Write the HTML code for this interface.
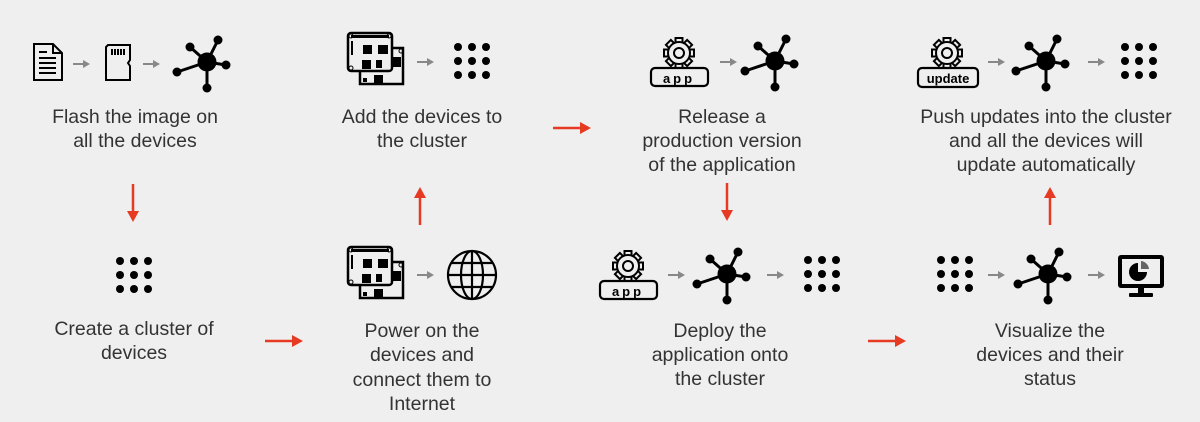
<!DOCTYPE html>
<html><head><meta charset="utf-8"><style>
html,body{margin:0;padding:0;background:#efefef;}
svg{display:block;}
text{font-family:"Liberation Sans",sans-serif;font-size:19.5px;fill:#333;text-anchor:middle;}
</style></head><body>
<svg width="1200" height="422" viewBox="0 0 1200 422" xmlns="http://www.w3.org/2000/svg">
<defs>
  <g id="hub">
    <g stroke="#000" stroke-width="3">
      <line x1="0" y1="0" x2="11" y2="-22"/><line x1="0" y1="0" x2="-17" y2="-15"/>
      <line x1="0" y1="0" x2="19" y2="3"/><line x1="0" y1="0" x2="-30" y2="10"/>
      <line x1="0" y1="0" x2="0" y2="26"/>
    </g>
    <circle r="9.5" fill="#000"/>
    <circle cx="11" cy="-22" r="4.5"/><circle cx="-17" cy="-15" r="4.5"/>
    <circle cx="19" cy="3" r="4.5"/><circle cx="-30" cy="10" r="4.5"/>
    <circle cx="0" cy="26" r="4.5"/>
  </g>
  <g id="grid">
    <circle cx="-14" cy="-14" r="4"/><circle cx="0" cy="-14" r="4"/><circle cx="14" cy="-14" r="4"/>
    <circle cx="-14" cy="0" r="4"/><circle cx="0" cy="0" r="4"/><circle cx="14" cy="0" r="4"/>
    <circle cx="-14" cy="14" r="4"/><circle cx="0" cy="14" r="4"/><circle cx="14" cy="14" r="4"/>
  </g>
  <g id="garr">
    <line x1="0" y1="0" x2="12" y2="0" stroke="#888" stroke-width="2"/>
    <polygon points="10,-4 17,0 10,4" fill="#888"/>
  </g>
  <g id="board">
    <path d="M44,15 H55 V51 H12 V38" fill="none" stroke="#000" stroke-width="2.5"/>
    <rect x="0" y="0" width="44" height="38" rx="3" fill="none" stroke="#000" stroke-width="2.5"/>
    <rect x="3" y="2" width="38" height="3" fill="#000"/>
    <rect x="3" y="8" width="2" height="14" fill="#000"/>
    <rect x="15" y="12" width="9" height="9" fill="#000"/>
    <rect x="30" y="12" width="10" height="9" fill="#000"/>
    <rect x="14" y="27" width="9" height="9" fill="#000"/>
    <rect x="28" y="27" width="6" height="8" fill="#000"/>
    <rect x="45" y="24" width="8" height="10" fill="#000"/>
    <rect x="26" y="42" width="9" height="9" fill="#000"/>
    <rect x="15" y="45" width="4" height="4" fill="#000"/>
    <circle cx="3" cy="3" r="2" fill="none" stroke="#000"/><circle cx="41" cy="3" r="2" fill="none" stroke="#000"/>
    <circle cx="3" cy="35" r="2" fill="none" stroke="#000"/><circle cx="53" cy="18" r="2" fill="none" stroke="#000"/>
  </g>
  <g id="gear" fill="none" stroke="#000" stroke-width="2">
    <g fill="#efefef">
      <rect x="-3.5" y="-15" width="7" height="6"/>
      <rect x="-3.5" y="-15" width="7" height="6" transform="rotate(45)"/>
      <rect x="-3.5" y="-15" width="7" height="6" transform="rotate(90)"/>
      <rect x="-3.5" y="-15" width="7" height="6" transform="rotate(135)"/>
      <rect x="-3.5" y="-15" width="7" height="6" transform="rotate(-45)"/>
      <rect x="-3.5" y="-15" width="7" height="6" transform="rotate(-90)"/>
      <rect x="-3.5" y="-15" width="7" height="6" transform="rotate(-135)"/>
      <rect x="-3.5" y="-15" width="7" height="6" transform="rotate(180)"/>
    </g>
    <circle r="11" fill="#efefef"/>
    <circle r="5"/>
  </g>
  <g id="redr"><line x1="0" y1="0" x2="30" y2="0" stroke="#e63a22" stroke-width="2.5"/><polygon points="27,-6 38,0 27,6" fill="#e63a22"/></g>
</defs>

<!-- Step 1 -->
<g fill="none" stroke="#000" stroke-width="2">
  <path d="M34,44 H53 L62,53 V80 H34 Z"/><path d="M53,44 V53 H62"/>
  <line x1="39" y1="52" x2="47" y2="52"/><line x1="39" y1="58" x2="56" y2="58"/>
  <line x1="39" y1="63" x2="56" y2="63"/><line x1="39" y1="68" x2="56" y2="68"/><line x1="39" y1="73" x2="56" y2="73"/>
  <path d="M108,45 H130 V60 L128,63 L130,66 V80 H106 V47 Z"/>
  <path d="M112,49 v6 M115,49 v6 M118,49 v6 M121,49 v6 M124,49 v6"/>
</g>
<use href="#garr" x="73" y="64"/><use href="#garr" x="143" y="64"/>
<use href="#hub" x="207" y="62"/>
<text x="135" y="123">Flash the image on</text><text x="135" y="147">all the devices</text>

<g transform="translate(133,184) rotate(90)"><use href="#redr"/></g>

<!-- Step 2 -->
<use href="#grid" x="134" y="275"/>
<text x="134" y="335">Create a cluster of</text><text x="134" y="359">devices</text>
<use href="#redr" x="265" y="341"/>

<!-- Step 3 -->
<use href="#board" x="348" y="247"/>
<use href="#garr" x="417" y="275"/>
<g fill="none" stroke="#000" stroke-width="2.2" transform="translate(472,275)">
  <circle r="24"/><ellipse rx="11" ry="24"/><line x1="0" y1="-24" x2="0" y2="24"/>
  <line x1="-24" y1="0" x2="24" y2="0"/><line x1="-20" y1="-12" x2="20" y2="-12"/><line x1="-20" y1="12" x2="20" y2="12"/>
</g>
<text x="422" y="337">Power on the</text><text x="422" y="361">devices and</text>
<text x="422" y="386">connect them to</text><text x="422" y="410">Internet</text>

<g transform="translate(420,225) rotate(-90)"><use href="#redr"/></g>

<!-- Step 4 -->
<use href="#board" x="348" y="33"/>
<use href="#garr" x="417" y="62"/>
<use href="#grid" x="472" y="61"/>
<text x="422" y="123">Add the devices to</text><text x="422" y="147">the cluster</text>
<use href="#redr" x="553" y="128"/>

<!-- Step 5 -->
<use href="#gear" x="679" y="53"/>
<rect x="651" y="68" width="57" height="18" rx="4" fill="#efefef" stroke="#000" stroke-width="2.2"/>
<text x="679" y="83" style="font-size:13px;font-weight:bold;letter-spacing:3px;fill:#000">app</text>
<use href="#garr" x="720" y="62"/>
<use href="#hub" x="775" y="61"/>
<text x="722" y="123">Release a</text><text x="722" y="147">production version</text><text x="722" y="171">of the application</text>

<g transform="translate(727,183) rotate(90)"><use href="#redr"/></g>

<!-- Step 6 -->
<use href="#gear" x="628" y="266"/>
<rect x="600" y="281" width="57" height="18" rx="4" fill="#efefef" stroke="#000" stroke-width="2.2"/>
<text x="628" y="296" style="font-size:13px;font-weight:bold;letter-spacing:3px;fill:#000">app</text>
<use href="#garr" x="668" y="275"/>
<use href="#hub" x="727" y="274"/>
<use href="#garr" x="767" y="275"/>
<use href="#grid" x="822" y="274"/>
<text x="720" y="337">Deploy the</text><text x="720" y="361">application onto</text><text x="720" y="385">the cluster</text>
<use href="#redr" x="868" y="341"/>

<!-- Step 7 -->
<use href="#grid" x="955" y="274"/>
<use href="#garr" x="988" y="275"/>
<use href="#hub" x="1048" y="274"/>
<use href="#garr" x="1088" y="275"/>
<g transform="translate(1118,255)">
  <rect x="0" y="0" width="46" height="33" rx="3" fill="#000"/>
  <rect x="4" y="4" width="38" height="25" fill="#efefef"/>
  <path d="M20,8 A9,9 0 1 0 29,17 H20 Z" fill="#000"/>
  <path d="M23,6 A9,9 0 0 1 31,14 H23 Z" fill="#666"/>
  <rect x="20" y="33" width="6" height="5" fill="#000"/>
  <rect x="11" y="38" width="24" height="4" rx="1" fill="#000"/>
</g>
<text x="1050" y="337">Visualize the</text><text x="1050" y="361">devices and their</text><text x="1050" y="385">status</text>

<g transform="translate(1050,225) rotate(-90)"><use href="#redr"/></g>

<!-- Step 8 -->
<use href="#gear" x="947" y="53"/>
<rect x="918" y="68" width="60" height="19" rx="4" fill="#efefef" stroke="#000" stroke-width="2.2"/>
<text x="948" y="83" style="font-size:13px;font-weight:bold;fill:#000">update</text>
<use href="#garr" x="988" y="62"/>
<use href="#hub" x="1046" y="61"/>
<use href="#garr" x="1088" y="62"/>
<use href="#grid" x="1139" y="61"/>
<text x="1046" y="123">Push updates into the cluster</text><text x="1046" y="147">and all the devices will</text><text x="1046" y="171">update automatically</text>
</svg>
</body></html>
